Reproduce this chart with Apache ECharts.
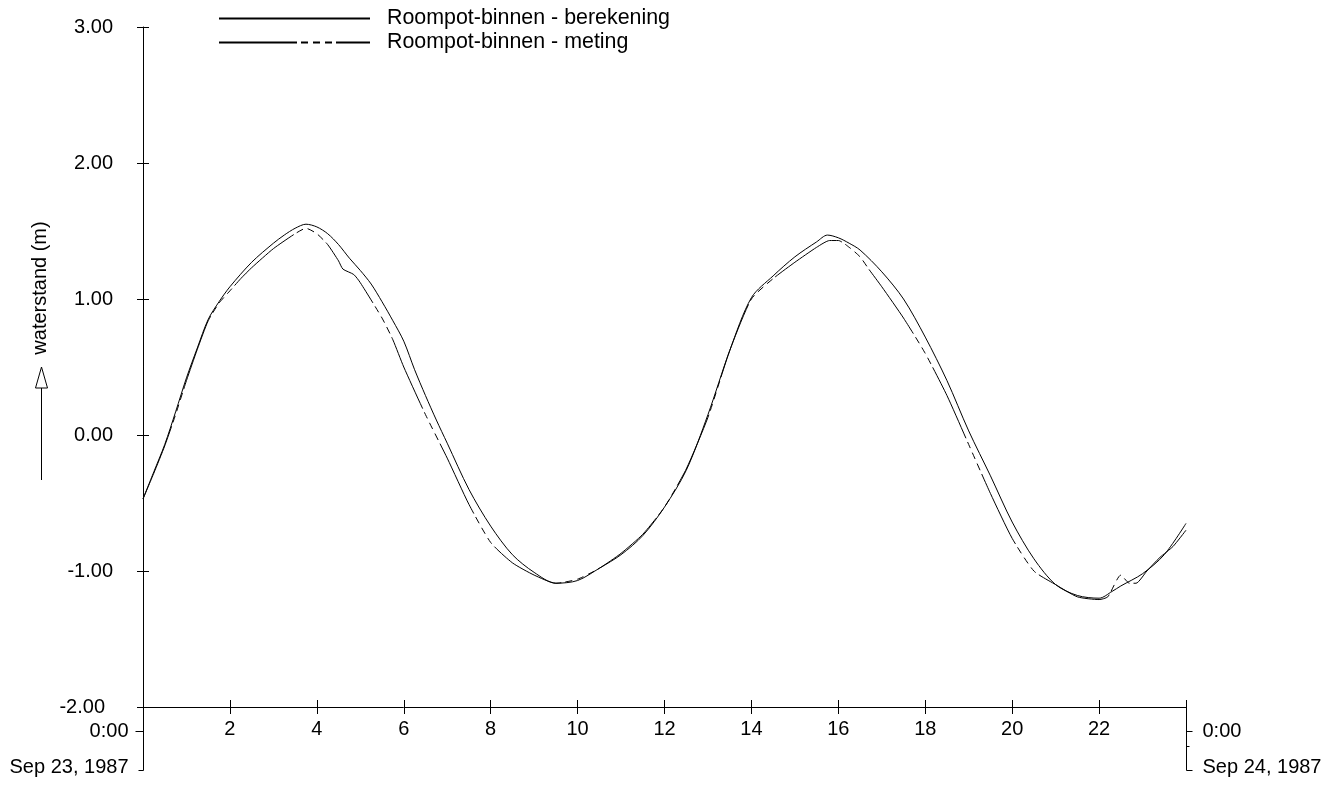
<!DOCTYPE html>
<html>
<head>
<meta charset="utf-8">
<script src="https://cdn.jsdelivr.net/npm/echarts@6/dist/echarts.min.js"></script>
<style>
html,body{margin:0;padding:0;background:#fff;}
#chart{width:1334px;height:787px;}
</style>
</head>
<body>
<div id="chart"></div>
<script>
// ---- data (hours after Sep 23, 1987 0:00; water level in m) ----
const calcHours = [0,0.25,0.5,0.75,1,1.25,1.5,1.75,2,2.5,3,3.25,3.5,3.75,4,4.25,4.5,4.75,5,5.25,5.5,5.75,6,6.25,6.5,6.75,7,7.5,8,8.5,9,9.5,10,10.5,11,11.5,12,12.5,13,13.5,14,14.5,15,15.5,15.75,16,16.25,16.5,17,17.5,18,18.5,19,19.5,20,20.5,21,21.5,22,22.3,22.5,23,23.5,24];
const calcLevels = [-0.47,-0.27,-0.07,0.17,0.42,0.64,0.85,0.98,1.09,1.27,1.41,1.47,1.52,1.55,1.53,1.48,1.40,1.30,1.21,1.11,0.98,0.84,0.69,0.48,0.29,0.11,-0.06,-0.40,-0.67,-0.88,-1.01,-1.09,-1.07,-0.98,-0.88,-0.74,-0.53,-0.26,0.15,0.62,1.01,1.17,1.31,1.42,1.47,1.45,1.41,1.36,1.20,1.00,0.72,0.40,0.03,-0.30,-0.64,-0.91,-1.10,-1.18,-1.20,-1.15,-1.11,-1.02,-0.88,-0.65];
const measHours = [0,0.25,0.5,0.75,1,1.25,1.5,1.75,2,2.25,2.5,3,3.5,3.75,4,4.25,4.5,4.6,4.85,5,5.5,5.75,6,6.5,7,7.5,8,8.5,9,9.5,10,10.5,11,11.5,12,12.5,13,13.5,14,14.5,15,15.5,15.8,16,16.25,16.5,16.7,17,17.5,18,18.5,19,19.5,20,20.5,21,21.5,22,22.2,22.5,22.7,22.85,23.1,23.4,23.7,24];
const measLevels = [-0.47,-0.28,-0.08,0.15,0.40,0.63,0.84,0.97,1.06,1.15,1.23,1.37,1.48,1.52,1.48,1.40,1.28,1.22,1.18,1.12,0.86,0.70,0.50,0.15,-0.17,-0.51,-0.79,-0.94,-1.03,-1.09,-1.06,-0.98,-0.87,-0.73,-0.53,-0.25,0.13,0.62,1.00,1.15,1.27,1.38,1.43,1.43,1.38,1.31,1.22,1.09,0.86,0.60,0.29,-0.07,-0.43,-0.76,-1.00,-1.10,-1.19,-1.21,-1.19,-1.03,-1.09,-1.09,-1.00,-0.90,-0.82,-0.70];
const seriesNames = ['Roompot-binnen - berekening','Roompot-binnen - meting'];
const yTicks = [-2,-1,0,1,2,3];
const xTicks = [0,2,4,6,8,10,12,14,16,18,20,22,24];
const startLabels = ['0:00','Sep 23, 1987'];
const endLabels = ['0:00','Sep 24, 1987'];
const yName = 'waterstand (m)';

const FONT = "'Liberation Sans', Arial, Helvetica, sans-serif";
const chart = echarts.init(document.getElementById('chart'), null, {renderer:'canvas'});

const pairs = (hs, vs) => hs.map((h,i)=>[h, vs[i]]);

const axisLabelY = {
  fontSize:20, color:'#000', fontFamily:FONT, margin:30,
  formatter: v => v === yTicks[0] ? '{m|' + v.toFixed(2) + '}' : v.toFixed(2),
  rich:{ m:{ fontSize:20, color:'#000', fontFamily:FONT, padding:[0,8,0,0] } }
};

chart.setOption({
  animation:false,
  backgroundColor:'#fff',
  grid:{ left:143, right:148, top:27, bottom:80, containLabel:false },
  legend:{
    orient:'vertical', left:218, top:8, padding:0, itemWidth:151, itemHeight:14, itemGap:3,
    itemStyle:{ opacity:0 },
    textStyle:{ fontSize:21.4, color:'#000', fontFamily:FONT, padding:[0,0,0,12] },
    data:seriesNames
  },
  xAxis:[
    { type:'value', min:xTicks[0], max:xTicks[xTicks.length-1], interval:2, position:'bottom',
      axisLine:{ onZero:false, lineStyle:{ color:'#000', width:1 } },
      axisTick:{ length:7, lineStyle:{ color:'#000' } },
      splitLine:{ show:false },
      axisLabel:{ fontSize:20, color:'#000', fontFamily:FONT, margin:12,
        formatter: v => (v === xTicks[0] || v === xTicks[xTicks.length-1]) ? '' : String(v) } },
    { type:'value', min:xTicks[0], max:xTicks[xTicks.length-1], interval:2, position:'bottom',
      axisLine:{ show:false, onZero:false },
      axisTick:{ inside:true, length:7, lineStyle:{ color:'#000' } },
      splitLine:{ show:false }, axisLabel:{ show:false } }
  ],
  yAxis:[
    { type:'value', min:yTicks[0], max:yTicks[yTicks.length-1], interval:1, position:'left',
      axisLine:{ show:true, onZero:false, lineStyle:{ color:'#000', width:1 } },
      axisTick:{ show:true, length:6, lineStyle:{ color:'#000' } },
      splitLine:{ show:false }, axisLabel:axisLabelY },
    { type:'value', min:yTicks[0], max:yTicks[yTicks.length-1], interval:1, position:'left',
      axisLine:{ show:false, onZero:false },
      axisTick:{ show:true, inside:true, length:6, lineStyle:{ color:'#000' } },
      splitLine:{ show:false }, axisLabel:{ show:false } }
  ],
  series:[
    { name:seriesNames[0], type:'line', xAxisIndex:0, yAxisIndex:0, data:pairs(calcHours, calcLevels),
      symbol:'none', showSymbol:false, smooth:0.3,
      lineStyle:{ color:'#000', width:1 }, itemStyle:{ color:'#000' } },
    { name:seriesNames[1], type:'line', xAxisIndex:0, yAxisIndex:0, data:pairs(measHours, measLevels),
      symbol:'none', showSymbol:false, smooth:0.2,
      lineStyle:{ color:'#000', width:1, type:[78,4,7,5,7,5,7,4] }, itemStyle:{ color:'#000' } }
  ]
});

// ---- axis decorations below the time axis, positioned from the axis scales ----
const x0 = Math.round(chart.convertToPixel({xAxisIndex:0}, xTicks[0])) + 0.5;
const x1 = Math.round(chart.convertToPixel({xAxisIndex:0}, xTicks[xTicks.length-1])) + 0.5;
const yb = Math.round(chart.convertToPixel({yAxisIndex:0}, yTicks[0]));
const yMid = Math.round(chart.convertToPixel({yAxisIndex:0}, 1.08));
const yArrTip = Math.round(chart.convertToPixel({yAxisIndex:0}, 0.5));
const yArrEnd = Math.round(chart.convertToPixel({yAxisIndex:0}, -0.33));
const rowA = yb + 24.5, rowB = yb + 63.5;
const ls = { stroke:'#000', lineWidth:1 };
const txt = (x, y, t, align) => ({ type:'text', x, y, silent:true,
  style:{ text:t, fill:'#000', font:'20px ' + FONT, textAlign:align, textVerticalAlign:'middle' } });
const line = (a,b,c,d) => ({ type:'line', silent:true, shape:{x1:a,y1:b,x2:c,y2:d}, style:ls });

chart.setOption({
  graphic:[
    line(x0, yb, x0, rowB),
    line(x0-8, rowA, x0, rowA),
    line(x0-5, rowB, x0, rowB),
    txt(x0-15, rowA, startLabels[0], 'right'),
    txt(x0-15, rowB-3, startLabels[1], 'right'),
    line(x1, yb, x1, rowB),
    line(x1, rowA, x1+6, rowA),
    line(x1, rowA+15, x1+3, rowA+15),
    line(x1, rowB, x1+6, rowB),
    txt(x1+16, rowA, endLabels[0], 'left'),
    txt(x1+16, rowB-3, endLabels[1], 'left'),
    { type:'text', x:40, y:yMid, rotation:Math.PI/2, silent:true,
      style:{ text:yName, fill:'#000', font:'20px ' + FONT, textAlign:'center', textVerticalAlign:'middle' } },
    line(41.5, yArrEnd, 41.5, yArrTip+21),
    { type:'polygon', silent:true,
      shape:{ points:[[41.5, yArrTip],[35.5, yArrTip+21],[47.5, yArrTip+21]] },
      style:{ fill:'#fff', stroke:'#000', lineWidth:1 } }
  ]
});
</script>
</body>
</html>
